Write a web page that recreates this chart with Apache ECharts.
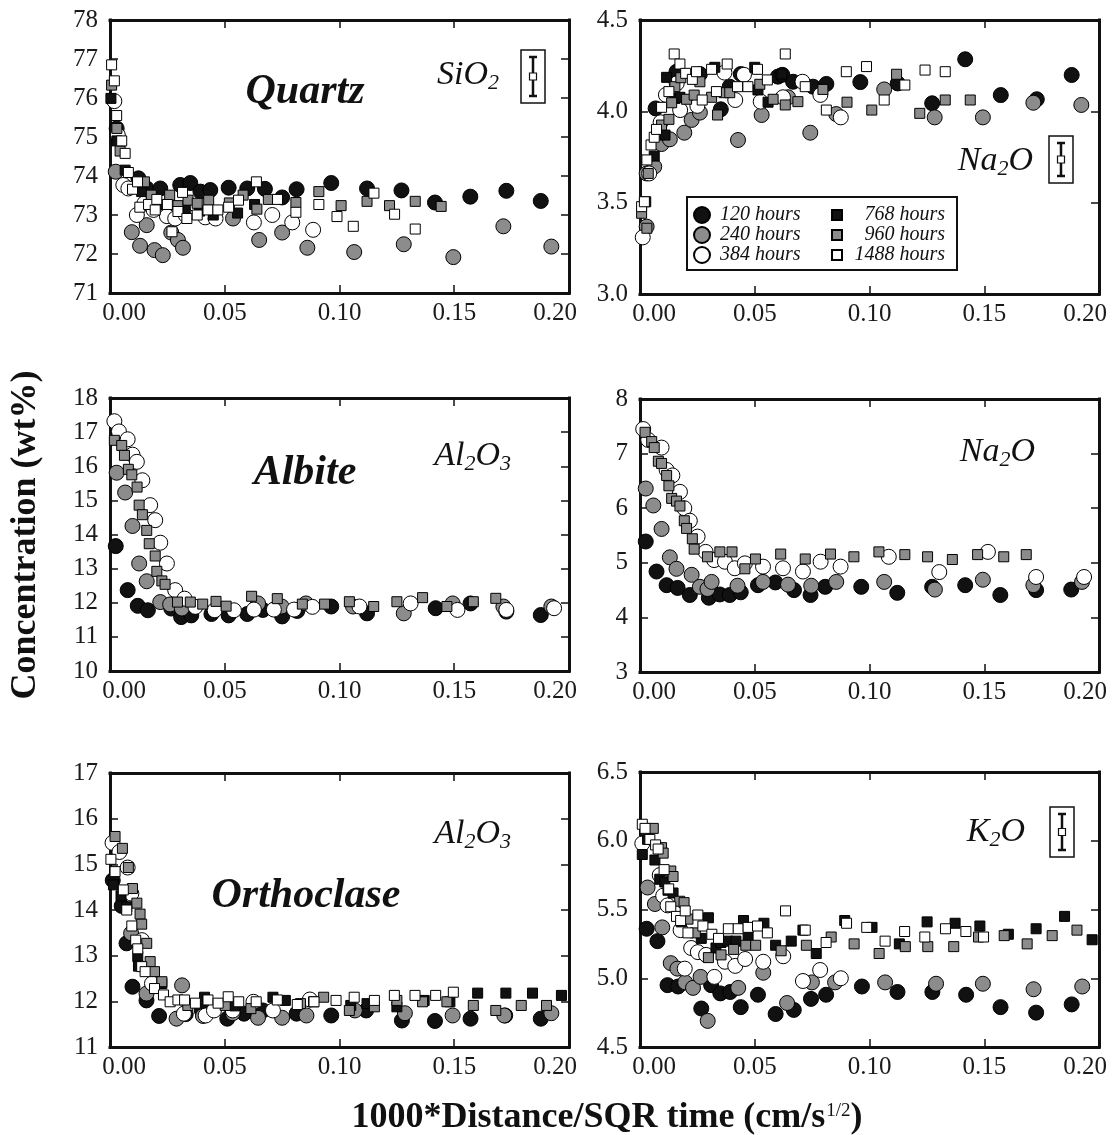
<!DOCTYPE html>
<html>
<head>
<meta charset="utf-8">
<title>Concentration profiles</title>
<script src="https://cdn.jsdelivr.net/npm/echarts@6/dist/echarts.min.js"></script>
<style>
    html, body { margin: 0; padding: 0; background: #fff; }
    #chart { width: 1117px; height: 1135px; }
</style>
</head>
<body>
<div id="chart"></div>
<script>
    // x = 1000*distance/sqrt(t), y = wt%

    // Quartz, SiO2
    var qtzSi_120 = [[0.0029,75.22],[0.0124,73.94],[0.016,73.68],[0.0219,73.68],[0.0306,73.77],[0.035,73.82],[0.0394,73.6],[0.0437,73.64],[0.0517,73.7],[0.0598,73.68],[0.0675,73.67],[0.075,73.45],[0.0813,73.66],[0.0964,73.82],[0.112,73.68],[0.127,73.63],[0.1416,73.32],[0.157,73.47],[0.1727,73.62],[0.1877,73.36]];
    var qtzSi_240 = [[0.0025,74.11],[0.0095,72.56],[0.0131,72.21],[0.016,72.74],[0.0194,72.1],[0.023,71.97],[0.0267,72.55],[0.0296,72.36],[0.0318,72.16],[0.0536,72.91],[0.065,72.36],[0.075,72.55],[0.086,72.16],[0.1064,72.05],[0.128,72.25],[0.1496,71.92],[0.1714,72.71],[0.1923,72.19]];
    var qtzSi_384 = [[0.0019,75.92],[0.0034,75.05],[0.0058,73.77],[0.008,73.68],[0.0117,73.0],[0.015,73.3],[0.019,73.13],[0.0248,72.97],[0.0284,72.91],[0.033,73.0],[0.0415,72.94],[0.046,72.91],[0.0627,72.81],[0.0707,73.0],[0.0794,72.81],[0.0885,72.62]];
    var qtzSi_768 = [[0.0004,75.99],[0.003,74.9],[0.0066,74.15],[0.0138,73.6],[0.018,73.35],[0.024,73.27],[0.0328,73.13],[0.039,73.1],[0.045,73.0],[0.0556,73.05],[0.063,73.27]];
    var qtzSi_960 = [[0.0007,76.33],[0.003,75.22],[0.0044,74.64],[0.015,73.85],[0.018,73.51],[0.026,73.51],[0.0296,73.24],[0.034,73.38],[0.038,73.3],[0.043,73.38],[0.052,73.31],[0.058,73.51],[0.064,73.15],[0.069,73.4],[0.081,73.32],[0.091,73.6],[0.1007,73.24],[0.112,73.35],[0.1218,73.24],[0.133,73.35],[0.1443,73.22]];
    var qtzSi_1488 = [[0.0007,76.85],[0.0019,76.44],[0.0029,75.55],[0.0051,74.9],[0.0066,74.58],[0.008,74.09],[0.0098,73.66],[0.012,73.85],[0.013,73.2],[0.0168,73.27],[0.0197,73.13],[0.0204,73.4],[0.025,73.27],[0.027,72.57],[0.0296,73.09],[0.0316,73.58],[0.0335,72.91],[0.038,73.0],[0.0427,73.13],[0.047,73.13],[0.0517,73.2],[0.056,73.38],[0.0638,73.85],[0.073,73.4],[0.081,73.07],[0.091,73.27],[0.0989,72.96],[0.106,72.71],[0.115,73.56],[0.124,73.02],[0.133,72.64]];

    // Quartz, Na2O
    var qtzNa_120 = [[0.0068,4.016],[0.0159,4.217],[0.0261,4.204],[0.0352,4.011],[0.0391,4.135],[0.0439,4.204],[0.0601,4.19],[0.062,4.2],[0.0667,4.162],[0.0754,4.135],[0.0812,4.15],[0.096,4.16],[0.1123,4.153],[0.1273,4.044],[0.1417,4.285],[0.1572,4.089],[0.1729,4.066],[0.1881,4.199]];
    var qtzNa_240 = [[0.0029,3.66],[0.0029,3.369],[0.0062,3.697],[0.0094,3.821],[0.013,3.847],[0.0193,3.883],[0.0225,3.953],[0.0261,3.993],[0.0427,3.843],[0.053,3.98],[0.0645,4.077],[0.0742,3.883],[0.0855,3.985],[0.1064,4.12],[0.1284,3.967],[0.1494,3.967],[0.1714,4.047],[0.1923,4.035]];
    var qtzNa_384 = [[0.0012,3.31],[0.004,3.66],[0.009,3.94],[0.0113,4.09],[0.016,4.153],[0.0175,4.007],[0.025,4.03],[0.0368,4.212],[0.0415,4.062],[0.0453,4.2],[0.0526,4.053],[0.0623,4.077],[0.0708,4.162],[0.0786,4.09],[0.0875,3.967]];
    var qtzNa_768 = [[0.0025,3.505],[0.0062,3.755],[0.0109,3.87],[0.0116,4.186],[0.0152,4.071],[0.0174,4.077],[0.0326,4.241],[0.05,4.241],[0.0514,4.117],[0.0558,4.05],[0.0619,4.204]];
    var qtzNa_960 = [[0.0007,3.442],[0.003,3.36],[0.0036,3.66],[0.0094,3.925],[0.0126,3.956],[0.0138,4.047],[0.0152,4.135],[0.0178,4.184],[0.0203,4.066],[0.0236,4.089],[0.0261,4.162],[0.0312,4.077],[0.0338,3.98],[0.0367,4.102],[0.0391,4.102],[0.0522,4.148],[0.058,4.066],[0.0633,4.035],[0.0688,4.053],[0.0797,4.12],[0.0902,4.05],[0.101,4.007],[0.1118,4.203],[0.1219,3.989],[0.133,4.062],[0.1439,4.062]];
    var qtzNa_1488 = [[0.0007,3.478],[0.0019,3.505],[0.003,3.734],[0.0048,3.816],[0.0062,3.858],[0.0072,3.901],[0.0094,4.022],[0.0126,4.108],[0.0149,4.314],[0.0174,4.259],[0.0199,4.208],[0.0228,4.175],[0.0246,4.217],[0.0271,4.062],[0.0312,4.23],[0.0333,4.108],[0.038,4.259],[0.0425,4.135],[0.047,4.135],[0.0512,4.23],[0.0555,4.172],[0.0633,4.314],[0.072,4.135],[0.0812,4.007],[0.0899,4.217],[0.0987,4.245],[0.1064,4.062],[0.1154,4.144],[0.1242,4.226],[0.133,4.217]];

    // Albite, Al2O3
    var albAl_120 = [[0.0025,13.66],[0.0077,12.37],[0.0121,11.91],[0.0165,11.78],[0.0267,11.83],[0.031,11.58],[0.0354,11.63],[0.0442,11.67],[0.0517,11.63],[0.0598,11.67],[0.0666,11.79],[0.075,11.6],[0.0816,11.76],[0.0964,11.89],[0.112,11.69],[0.1419,11.84],[0.1571,11.98],[0.1727,11.74],[0.1877,11.64]];
    var albAl_240 = [[0.0029,15.81],[0.0066,15.23],[0.0098,14.25],[0.0127,13.15],[0.016,12.63],[0.0219,12.02],[0.0262,11.95],[0.0313,11.83],[0.0645,11.98],[0.0748,11.89],[0.0854,11.98],[0.1059,11.89],[0.128,11.69],[0.1493,11.98],[0.1714,11.89],[0.1923,11.89]];
    var albAl_384 = [[0.0019,17.32],[0.0039,17.02],[0.0077,16.79],[0.0098,16.34],[0.0117,16.13],[0.0141,15.59],[0.0175,14.86],[0.0197,14.42],[0.0219,13.76],[0.0248,13.15],[0.0284,12.37],[0.0325,12.12],[0.0372,11.88],[0.0456,11.78],[0.054,11.78],[0.0627,11.8],[0.0714,11.8],[0.0802,11.8],[0.0882,11.88],[0.1087,11.89],[0.131,11.98],[0.1514,11.79],[0.1727,11.79],[0.1935,11.84]];
    var albAl_960 = [[0.0019,16.76],[0.0051,16.61],[0.0063,16.32],[0.008,15.91],[0.0095,15.75],[0.0118,15.39],[0.0127,14.86],[0.0141,14.58],[0.016,14.12],[0.0171,13.73],[0.0197,13.37],[0.0204,12.92],[0.0226,12.64],[0.024,12.54],[0.0294,12.02],[0.035,12.02],[0.0404,11.96],[0.0462,12.04],[0.0506,11.9],[0.0617,12.19],[0.0729,12.12],[0.0838,11.96],[0.0935,11.96],[0.1043,12.03],[0.1149,11.89],[0.125,12.03],[0.1362,12.15],[0.1468,11.89],[0.1583,12.03],[0.1681,12.13]];

    // Albite, Na2O
    var albNa_120 = [[0.0025,5.39],[0.0072,4.84],[0.0116,4.59],[0.0164,4.54],[0.0217,4.41],[0.03,4.36],[0.0348,4.42],[0.0391,4.41],[0.0439,4.46],[0.0514,4.59],[0.059,4.64],[0.0671,4.5],[0.0743,4.41],[0.0807,4.56],[0.0964,4.56],[0.1121,4.45],[0.1273,4.56],[0.1417,4.59],[0.157,4.41],[0.1726,4.5],[0.1879,4.51]];
    var albNa_240 = [[0.0025,6.36],[0.0058,6.05],[0.0094,5.62],[0.013,5.1],[0.0159,4.89],[0.0225,4.78],[0.0261,4.56],[0.0294,4.52],[0.0312,4.65],[0.0425,4.58],[0.0536,4.65],[0.0645,4.6],[0.0746,4.58],[0.0855,4.65],[0.1064,4.65],[0.1285,4.51],[0.1494,4.69],[0.1714,4.59],[0.1926,4.65]];
    var albNa_384 = [[0.0014,7.45],[0.0036,7.25],[0.0094,7.11],[0.0116,6.7],[0.0141,6.6],[0.0174,6.3],[0.0193,6.0],[0.0217,5.77],[0.0251,5.48],[0.0286,5.2],[0.0323,5.05],[0.037,5.02],[0.0413,4.9],[0.0457,4.99],[0.0536,4.93],[0.0623,4.9],[0.071,4.84],[0.0787,5.02],[0.0874,4.93],[0.1084,5.11],[0.1304,4.83],[0.1516,5.2],[0.1726,4.74],[0.1935,4.74]];
    var albNa_960 = [[0.0022,7.39],[0.0051,7.22],[0.0062,7.11],[0.008,6.86],[0.0094,6.82],[0.0116,6.6],[0.0126,6.41],[0.0138,6.18],[0.0159,6.13],[0.0174,6.04],[0.0193,5.77],[0.0203,5.63],[0.0228,5.44],[0.0236,5.25],[0.0294,5.11],[0.0348,5.2],[0.0401,5.2],[0.0457,4.89],[0.0503,5.07],[0.0613,5.16],[0.072,5.07],[0.083,5.16],[0.0932,5.11],[0.1041,5.2],[0.1154,5.15],[0.1253,5.11],[0.1361,5.06],[0.1471,5.15],[0.1585,5.11],[0.1683,5.15]];

    // Orthoclase, Al2O3
    var ortAl_120 = [[0.0012,14.65],[0.0051,14.09],[0.0072,13.27],[0.0098,12.32],[0.0159,12.02],[0.0214,11.68],[0.033,11.72],[0.04,11.8],[0.0511,11.62],[0.0584,11.73],[0.0666,11.8],[0.0813,11.73],[0.0964,11.69],[0.1116,11.8],[0.1272,11.58],[0.1416,11.57],[0.1571,11.62],[0.1722,11.69],[0.1877,11.62]];
    var ortAl_240 = [[0.0092,13.49],[0.0159,12.17],[0.029,11.62],[0.0314,12.35],[0.0405,11.68],[0.0535,11.74],[0.0645,11.64],[0.075,11.64],[0.0856,11.69],[0.1067,11.8],[0.1285,11.74],[0.1493,11.69],[0.1718,11.69],[0.1923,11.74]];
    var ortAl_384 = [[0.0011,15.47],[0.0041,15.27],[0.0077,14.93],[0.0093,14.36],[0.0139,13.34],[0.0183,12.39],[0.0322,11.73],[0.0417,11.69],[0.0453,11.8],[0.0535,11.8],[0.0625,11.99],[0.071,11.8],[0.0871,12.04]];
    var ortAl_768 = [[0.0015,14.55],[0.0048,14.31],[0.0073,14.07],[0.0121,12.98],[0.0124,12.77],[0.0226,12.39],[0.0412,12.09],[0.0545,11.9],[0.071,12.09],[0.0764,12.02],[0.0887,11.99],[0.1049,11.91],[0.112,11.95],[0.125,11.88],[0.1369,12.02],[0.1481,11.99],[0.1602,12.18],[0.1725,12.18],[0.1841,12.18],[0.1967,12.13]];
    var ortAl_960 = [[0.0022,15.61],[0.0054,15.35],[0.008,14.93],[0.0098,14.47],[0.0117,14.15],[0.0131,13.91],[0.0138,13.69],[0.016,13.27],[0.0175,12.87],[0.0194,12.65],[0.0226,12.43],[0.0339,11.91],[0.0502,11.91],[0.0614,11.84],[0.083,11.95],[0.0931,12.09],[0.1043,11.8],[0.1152,11.88],[0.125,12.02],[0.1362,11.99],[0.1468,11.99],[0.1583,11.91],[0.1681,11.8],[0.1792,11.91],[0.1902,11.91]];
    var ortAl_1488 = [[0.0004,15.11],[0.0022,14.84],[0.0058,14.44],[0.0073,14.0],[0.0095,13.65],[0.0112,13.34],[0.0121,13.15],[0.0138,12.76],[0.0153,12.65],[0.0194,12.28],[0.0233,12.14],[0.0262,11.99],[0.0296,12.03],[0.0325,12.03],[0.0372,11.96],[0.0427,12.03],[0.0471,11.96],[0.0515,12.1],[0.0561,11.99],[0.0637,11.99],[0.0729,12.03],[0.0816,11.93],[0.0889,11.99],[0.0985,12.02],[0.1064,12.09],[0.1152,12.02],[0.1239,12.13],[0.1329,12.13],[0.1419,12.13],[0.1496,12.2]];

    // Orthoclase, K2O
    var ortK_120 = [[0.0029,5.36],[0.0076,5.27],[0.012,4.95],[0.0166,4.94],[0.0267,4.78],[0.031,4.95],[0.035,4.89],[0.0393,4.9],[0.0439,4.79],[0.0514,4.88],[0.0591,4.74],[0.067,4.77],[0.0745,4.85],[0.0811,4.88],[0.0967,4.94],[0.1122,4.9],[0.1274,4.9],[0.1421,4.88],[0.1571,4.79],[0.1726,4.75],[0.1881,4.81]];
    var ortK_240 = [[0.0033,5.66],[0.0065,5.54],[0.0097,5.37],[0.0134,5.11],[0.0163,5.07],[0.0197,4.97],[0.0231,4.93],[0.0264,5.01],[0.0295,4.69],[0.0428,4.93],[0.0537,5.04],[0.0641,4.82],[0.0749,4.97],[0.085,4.97],[0.1068,4.97],[0.129,4.96],[0.1494,4.96],[0.1715,4.92],[0.1927,4.94]];
    var ortK_384 = [[0.001,5.98],[0.0086,5.75],[0.0101,5.6],[0.012,5.53],[0.0177,5.35],[0.0195,5.07],[0.0223,5.22],[0.0252,5.19],[0.0288,5.17],[0.0324,5.01],[0.037,5.12],[0.0415,5.09],[0.0458,5.14],[0.0537,5.12],[0.0624,5.16],[0.071,4.98],[0.0785,5.06],[0.0875,5.0]];
    var ortK_768 = [[0.001,5.9],[0.0033,6.01],[0.0065,5.86],[0.0086,5.72],[0.0108,5.7],[0.0122,5.64],[0.0144,5.62],[0.018,5.41],[0.0267,5.29],[0.0298,5.44],[0.0331,5.22],[0.0353,5.26],[0.0382,5.27],[0.0418,5.27],[0.0451,5.42],[0.0471,5.31],[0.054,5.4],[0.0591,5.24],[0.0659,5.27],[0.071,5.35],[0.0768,5.18],[0.0892,5.42],[0.1011,5.37],[0.113,5.25],[0.1251,5.41],[0.1373,5.4],[0.1481,5.38],[0.1605,5.32],[0.1726,5.36],[0.185,5.45],[0.197,5.28]];
    var ortK_960 = [[0.0058,6.09],[0.0094,5.95],[0.0101,5.91],[0.0134,5.78],[0.0144,5.74],[0.0173,5.56],[0.0192,5.55],[0.0209,5.43],[0.0241,5.33],[0.0298,5.15],[0.0353,5.17],[0.0408,5.21],[0.0461,5.24],[0.0504,5.24],[0.0615,5.2],[0.0725,5.24],[0.0833,5.3],[0.0933,5.25],[0.1042,5.18],[0.1156,5.23],[0.1254,5.23],[0.1367,5.23],[0.1475,5.3],[0.1587,5.31],[0.1687,5.25],[0.1796,5.31],[0.1904,5.35]];
    var ortK_1488 = [[0.001,6.12],[0.0022,6.09],[0.0043,6.01],[0.0068,5.97],[0.0079,5.94],[0.0105,5.79],[0.0125,5.65],[0.0134,5.52],[0.0159,5.45],[0.0177,5.42],[0.0197,5.49],[0.0209,5.33],[0.0252,5.46],[0.0274,5.38],[0.0313,5.32],[0.0342,5.29],[0.0385,5.36],[0.0428,5.36],[0.0471,5.37],[0.0512,5.38],[0.0555,5.33],[0.0634,5.49],[0.072,5.35],[0.0811,5.26],[0.09,5.4],[0.0988,5.37],[0.1068,5.27],[0.1153,5.34],[0.1241,5.3],[0.1331,5.36],[0.142,5.34],[0.1497,5.3]];

    var hourNames = ['120 hours', '240 hours', '384 hours', '768 hours', '960 hours', '1488 hours'];
    var xTicks = { min: 0, max: 0.2, step: 0.05 };

    var FONT = 'Liberation Serif';
    var INK = '#111';

    var markers = {
        '120 hours':  { symbol: 'circle', size: 15, color: '#111' },
        '240 hours':  { symbol: 'circle', size: 15, color: '#8c8c8c' },
        '384 hours':  { symbol: 'circle', size: 15, color: '#fff' },
        '768 hours':  { symbol: 'rect', size: 10, color: '#111' },
        '960 hours':  { symbol: 'rect', size: 10, color: '#8c8c8c' },
        '1488 hours': { symbol: 'rect', size: 10, color: '#fff' }
    };

    // one entry per panel: plot box, y axis [min, max, step, decimals], series by name
    var panels = [
        { box: [110, 20, 459, 273], y: [71, 78, 1, 0],
          data: { '120 hours': qtzSi_120, '240 hours': qtzSi_240, '384 hours': qtzSi_384, '768 hours': qtzSi_768, '960 hours': qtzSi_960, '1488 hours': qtzSi_1488 } },
        { box: [640, 20, 459, 274], y: [3.0, 4.5, 0.5, 1],
          data: { '120 hours': qtzNa_120, '240 hours': qtzNa_240, '384 hours': qtzNa_384, '768 hours': qtzNa_768, '960 hours': qtzNa_960, '1488 hours': qtzNa_1488 } },
        { box: [110, 398, 459, 273], y: [10, 18, 1, 0],
          data: { '120 hours': albAl_120, '240 hours': albAl_240, '384 hours': albAl_384, '960 hours': albAl_960 } },
        { box: [640, 399, 459, 273], y: [3, 8, 1, 0],
          data: { '120 hours': albNa_120, '240 hours': albNa_240, '384 hours': albNa_384, '960 hours': albNa_960 } },
        { box: [110, 773, 459, 274], y: [11, 17, 1, 0],
          data: { '120 hours': ortAl_120, '240 hours': ortAl_240, '384 hours': ortAl_384, '768 hours': ortAl_768, '960 hours': ortAl_960, '1488 hours': ortAl_1488 } },
        { box: [640, 772, 459, 275], y: [4.5, 6.5, 0.5, 1],
          data: { '120 hours': ortK_120, '240 hours': ortK_240, '384 hours': ortK_384, '768 hours': ortK_768, '960 hours': ortK_960, '1488 hours': ortK_1488 } }
    ];

    var lineStyle = { color: INK, width: 3, cap: 'square' };
    var tickStyle = { inside: true, length: 8, lineStyle: { color: INK, width: 1.5 } };
    var labelFont = { fontFamily: FONT, fontSize: 25, color: '#1a1a1a' };

    function xLabel(v) {
        if (v === xTicks.min) return '{l|' + v.toFixed(2) + '}';
        if (Math.abs(v - xTicks.max) < 1e-9) return '{r|' + v.toFixed(2) + '}';
        return '{n|' + v.toFixed(2) + '}';
    }

    var grids = [], xAxes = [], yAxes = [], series = [];
    panels.forEach(function (p, i) {
        grids.push({ left: p.box[0], top: p.box[1], width: p.box[2], height: p.box[3], outerBoundsMode: 'none', containLabel: false });
        ['bottom', 'top'].forEach(function (pos) {
            xAxes.push({
                gridIndex: i, type: 'value', position: pos,
                min: xTicks.min, max: xTicks.max, interval: xTicks.step,
                axisLine: { show: true, onZero: false, lineStyle: lineStyle },
                axisTick: tickStyle,
                splitLine: { show: false },
                axisLabel: pos === 'bottom' ? {
                    show: true, margin: 8, showMinLabel: true, showMaxLabel: true,
                    formatter: xLabel,
                    rich: {
                        l: { fontFamily: FONT, fontSize: 25, color: '#1a1a1a', padding: [0, 0, 0, 28] },
                        r: { fontFamily: FONT, fontSize: 25, color: '#1a1a1a', padding: [0, 28, 0, 0] },
                        n: { fontFamily: FONT, fontSize: 25, color: '#1a1a1a' }
                    }
                } : { show: false }
            });
        });
        ['left', 'right'].forEach(function (pos) {
            yAxes.push({
                gridIndex: i, type: 'value', position: pos,
                min: p.y[0], max: p.y[1], interval: p.y[2],
                axisLine: { show: true, onZero: false, lineStyle: lineStyle },
                axisTick: tickStyle,
                splitLine: { show: false },
                axisLabel: pos === 'left' ? Object.assign({
                    show: true, margin: 12, showMinLabel: true, showMaxLabel: true,
                    formatter: function (v) { return v.toFixed(p.y[3]); }
                }, labelFont) : { show: false }
            });
        });
        hourNames.forEach(function (name) {
            if (!p.data[name]) return;
            var m = markers[name];
            series.push({
                name: name, type: 'scatter',
                xAxisIndex: 2 * i, yAxisIndex: 2 * i,
                symbol: m.symbol, symbolSize: m.size,
                itemStyle: { color: m.color, borderColor: '#000', borderWidth: 1, opacity: 1 },
                data: p.data[name]
            });
        });
    });

    // formulas: subscripts pushed down with top padding
    var formulaRich = {
        m: { fontFamily: FONT, fontStyle: 'italic', fontSize: 34, color: INK },
        s: { fontFamily: FONT, fontStyle: 'italic', fontSize: 22, color: INK, padding: [17, 0, 0, 0] }
    };
    function formula(text, right, cy) {
        return { type: 'text', x: right, y: cy, style: { text: text, rich: formulaRich, fill: INK,
            align: 'right', verticalAlign: 'middle' } };
    }
    function mineral(text, cx, cy) {
        return { type: 'text', x: cx, y: cy, style: { text: text, font: 'italic bold 42px "' + FONT + '"', fill: INK,
            align: 'center', verticalAlign: 'middle' } };
    }
    // analytical error symbol: framed bar with caps
    function errorBox(cx, top, h) {
        var w = 24, s = { stroke: INK, lineWidth: 2.5 };
        return [
            { type: 'rect', shape: { x: cx - w / 2, y: top, width: w, height: h }, style: { fill: '#fff', stroke: INK, lineWidth: 1.5 } },
            { type: 'line', shape: { x1: cx, y1: top + 7, x2: cx, y2: top + h - 7 }, style: s },
            { type: 'line', shape: { x1: cx - 4, y1: top + 7, x2: cx + 4, y2: top + 7 }, style: s },
            { type: 'line', shape: { x1: cx - 4, y1: top + h - 7, x2: cx + 4, y2: top + h - 7 }, style: s },
            { type: 'rect', shape: { x: cx - 3.5, y: top + h / 2 - 3.5, width: 7, height: 7 }, style: { fill: '#fff', stroke: INK, lineWidth: 1.2 } }
        ];
    }

    var graphics = [
        mineral('Quartz', 305, 92),
        mineral('Albite', 305, 473),
        mineral('Orthoclase', 306, 896),
        formula('{m|SiO}{s|2}', 499, 75),
        formula('{m|Na}{s|2}{m|O}', 1033, 161),
        formula('{m|Al}{s|2}{m|O}{s|3}', 511, 456),
        formula('{m|Na}{s|2}{m|O}', 1035, 452),
        formula('{m|Al}{s|2}{m|O}{s|3}', 511, 834),
        formula('{m|K}{s|2}{m|O}', 1025, 832),
        { type: 'rect', shape: { x: 687, y: 197, width: 270, height: 73 }, style: { fill: 'none', stroke: INK, lineWidth: 2 } },
        { type: 'text', x: 26, y: 535, rotation: Math.PI / 2,
          style: { text: 'Concentration (wt%)', font: 'bold 36px "' + FONT + '"', fill: INK,
                   align: 'center', verticalAlign: 'middle' } },
        { type: 'text', x: 607, y: 1118,
          style: { text: '{b|1000*Distance/SQR time (cm/s}{p|1/2}{b|)}', fill: INK,
                   align: 'center', verticalAlign: 'middle',
                   rich: {
                       b: { fontFamily: FONT, fontWeight: 'bold', fontSize: 36, color: INK },
                       p: { fontFamily: FONT, fontSize: 19, color: INK, padding: [0, 0, 14, 1] }
                   } } }
    ].concat(errorBox(533, 50, 53), errorBox(1061, 136, 47), errorBox(1062, 807, 50));

    var legendText = { fontFamily: FONT, fontStyle: 'italic', fontSize: 20, color: INK };

    var myChart = echarts.init(document.getElementById('chart'), null, { renderer: 'canvas' });
    myChart.setOption({
        animation: false,
        backgroundColor: '#fff',
        grid: grids,
        xAxis: xAxes,
        yAxis: yAxes,
        legend: [{
            data: hourNames.slice(0, 3), orient: 'vertical', left: 693, top: 205,
            itemWidth: 26, itemHeight: 16, itemGap: 0, padding: 0, selectedMode: false,
            textStyle: legendText
        }, {
            data: hourNames.slice(3), orient: 'vertical', left: 831, top: 205,
            itemWidth: 10, itemHeight: 10, itemGap: 0, padding: 0, selectedMode: false,
            formatter: function (name) { return '{r|' + name + '}'; },
            textStyle: Object.assign({ rich: { r: Object.assign({ width: 98, align: 'right' }, legendText) } }, legendText)
        }],
        graphic: graphics,
        series: series
    });
</script>
</body>
</html>
